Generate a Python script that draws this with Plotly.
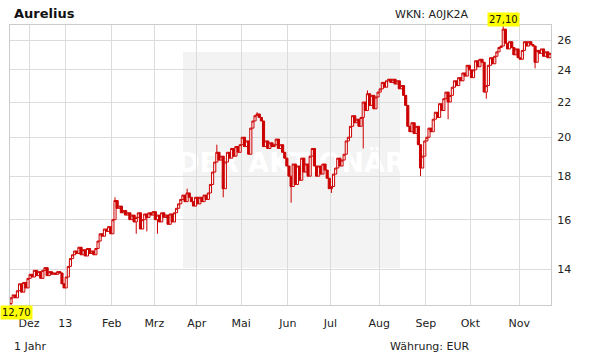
import math
import pandas as pd
import plotly.graph_objects as go

# ---------------- data ----------------
close_nov12 = [12.95, 13.05, 12.95, 13.2, 13.45, 13.15, 13.5, 13.3, 13.65]
close_dec12 = [13.8, 13.7, 13.95, 13.75, 13.9, 13.65, 13.95, 14.05, 13.75, 13.9, 13.8, 13.85,
               13.8, 13.9, 13.85, 13.45, 13.3]
close_jan13 = [13.7, 14.1, 14.4, 14.55, 14.7, 14.6, 14.85, 14.55, 14.75, 14.5, 14.8, 14.6,
               14.7, 14.55, 14.8, 15.1, 15.4, 15.3, 15.6, 15.5, 15.7, 15.4]
close_feb13 = [16.0, 16.85, 16.5, 16.6, 16.3, 16.4, 16.2, 16.3, 16.0, 16.2, 15.9, 16.1, 16.3,
               15.6, 16.0, 16.25, 16.1, 16.3, 16.2, 16.35]
close_mar13 = [16.0, 16.2, 15.9, 16.3, 16.1, 16.2, 15.8, 16.25, 15.9, 16.3, 16.5, 16.7, 16.9,
               17.1, 16.8, 17.2, 17.0, 16.8, 16.6, 17.0]
close_apr13 = [16.7, 17.0, 16.8, 17.1, 16.9, 17.2, 17.6, 18.2, 18.7, 19.2, 18.8, 19.0, 17.4,
               18.7, 19.2, 18.9, 19.4, 19.0, 19.5, 19.2, 19.6]
close_may13 = [20.0, 19.5, 19.8, 19.1, 20.5, 20.9, 21.2, 21.3, 21.1, 20.9, 19.5, 19.8, 19.4,
               19.7, 19.5, 19.6, 19.9, 19.4, 19.6, 19.2, 18.9, 18.5]
close_jun13 = [18.0, 17.5, 18.6, 17.6, 18.5, 17.8, 18.9, 18.2, 18.6, 18.0, 19.0, 19.4, 18.5,
               18.0, 18.5, 18.1, 18.6, 18.3, 17.9, 17.4]
close_jul13 = [17.5, 18.1, 18.4, 18.9, 18.5, 18.8, 19.1, 19.8, 20.0, 20.6, 21.2, 20.8, 21.0,
               20.6, 21.1, 22.0, 21.5, 22.5, 21.8, 22.4, 21.6, 22.3, 22.6]
close_aug13 = [22.8, 23.2, 22.9, 23.3, 23.4, 23.2, 23.4, 23.1, 23.3, 22.8, 23.0, 22.4, 21.8,
               20.6, 20.3, 20.8, 20.2, 20.6, 19.6, 18.4, 19.0, 19.8]
close_sep13 = [20.0, 20.5, 20.3, 21.0, 21.4, 21.1, 21.9, 21.5, 22.2, 22.6, 22.0, 22.4, 22.9,
               23.3, 23.0, 23.5, 23.3, 23.8, 23.6, 24.3, 24.0]
close_oct13 = [23.5, 24.0, 24.6, 24.2, 24.7, 24.5, 22.6, 23.0, 24.3, 24.8, 24.4, 24.9, 25.2,
               25.5, 25.6, 26.8, 25.8, 25.4, 25.9, 25.5, 25.0, 25.4, 24.8]
close_nov13 = [24.7, 25.3, 25.9, 25.6, 25.9, 25.7, 25.6, 24.5, 25.3, 25.1, 25.4, 24.9, 25.2,
               24.8, 25.1]
first_open = 12.75

# notable wick extremes: trading-day index -> price
wick_high = {49: 17.0, 83: 17.4, 97: 19.6, 116: 21.4, 168: 22.7, 232: 27.1}
wick_low = {0: 12.7, 59: 15.4, 64: 15.5, 69: 15.4, 100: 17.0, 132: 16.75, 151: 17.2,
            166: 19.4, 193: 18.0, 206: 21.0, 224: 22.2, 247: 24.1}

holidays = ["2012-12-24", "2012-12-25", "2012-12-26", "2012-12-31", "2013-01-01",
            "2013-03-29", "2013-04-01", "2013-05-01"]
month_labels = ["Dez", "13", "Feb", "Mrz", "Apr", "Mai", "Jun", "Jul", "Aug", "Sep", "Okt", "Nov"]
y_ticks = [14, 16, 18, 20, 22, 24, 26]
y_min, y_max = 12.7, 27.1

# ---------------- build ----------------
close = (close_nov12 + close_dec12 + close_jan13 + close_feb13 + close_mar13 + close_apr13 +
         close_may13 + close_jun13 + close_jul13 + close_aug13 + close_sep13 + close_oct13 +
         close_nov13)
opens = [first_open] + close[:-1]
highs = [wick_high.get(i, max(o, c)) for i, (o, c) in enumerate(zip(opens, close))]
lows = [wick_low.get(i, min(o, c)) for i, (o, c) in enumerate(zip(opens, close))]

dates = [d for d in pd.bdate_range("2012-11-20", "2013-12-31")
         if d.strftime("%Y-%m-%d") not in holidays][:len(close)]
xs = list(range(len(close)))
tick_idx = [i for i in range(1, len(dates)) if dates[i].month != dates[i - 1].month]
tickvals = [i - 0.5 for i in tick_idx]

red = "#cc0000"
fig = go.Figure(go.Candlestick(
    x=xs, open=opens, high=highs, low=lows, close=close,
    increasing=dict(line=dict(color=red, width=1), fillcolor="#ffffff"),
    decreasing=dict(line=dict(color=red, width=1), fillcolor=red),
    whiskerwidth=0, hoverinfo="skip", showlegend=False))

W, H = 611, 364
L, R, T, B = 10, 60, 25, 59
pw, ph = W - L - R, H - T - B


def px(xp):
    return (xp - L) / pw


def py(yp):
    return (H - B - yp) / ph


grid = "#dcdcdc"
fig.update_layout(
    width=W, height=H, margin=dict(l=L, r=R, t=T, b=B),
    paper_bgcolor="white", plot_bgcolor="white",
    boxgap=0, boxgroupgap=0,
    font=dict(family="DejaVu Sans", size=11, color="#222222"),
    xaxis=dict(range=[-0.5, len(close) - 0.5], tickvals=tickvals,
               ticktext=month_labels[:len(tickvals)], showgrid=True, gridcolor=grid,
               showline=True, mirror=True, linecolor="#cccccc", zeroline=False,
               ticks="", ticklabelstandoff=8, rangeslider=dict(visible=False),
               fixedrange=True),
    yaxis=dict(type="log", range=[math.log10(y_min), math.log10(y_max)], side="right",
               tickvals=y_ticks, ticktext=[str(v) for v in y_ticks], showgrid=True,
               gridcolor=grid, showline=True, mirror=True, linecolor="#cccccc",
               zeroline=False, ticks="", ticklabelstandoff=3, fixedrange=True),
    shapes=[dict(type="rect", xref="paper", yref="paper",
                 x0=px(183), x1=px(400), y0=py(268), y1=py(52),
                 fillcolor="#f3f3f3", line=dict(width=0), layer="below",
                 label=dict(text="<b>DER AKTIONÄR</b>",
                            font=dict(family="DejaVu Sans", size=27, color="white"),
                            textposition="middle center"))],
    annotations=[
        dict(text="<b>Aurelius</b>", xref="paper", yref="paper", x=px(12), y=py(14),
             xanchor="left", yanchor="middle", showarrow=False,
             font=dict(size=13, color="#111111")),
        dict(text="WKN: A0JK2A", xref="paper", yref="paper", x=px(393), y=py(15),
             xanchor="left", yanchor="middle", showarrow=False,
             font=dict(size=11, color="#222222")),
        dict(text="27,10", xref="x", yref="paper", x=close.index(max(close)), y=py(19),
             xanchor="center", yanchor="middle", showarrow=False, bgcolor="#ffff00",
             borderpad=1, font=dict(size=10, color="#111111")),
        dict(text="12,70", xref="paper", yref="paper", x=px(0), y=py(312),
             xanchor="left", yanchor="middle", showarrow=False, bgcolor="#ffff00",
             borderpad=1, font=dict(size=10, color="#111111")),
        dict(text="1 Jahr", xref="paper", yref="paper", x=px(12), y=py(346),
             xanchor="left", yanchor="middle", showarrow=False,
             font=dict(size=11, color="#222222")),
        dict(text="Währung: EUR", xref="paper", yref="paper", x=px(388), y=py(346),
             xanchor="left", yanchor="middle", showarrow=False,
             font=dict(size=11, color="#222222")),
    ],
)

fig.write_html("out.html")
